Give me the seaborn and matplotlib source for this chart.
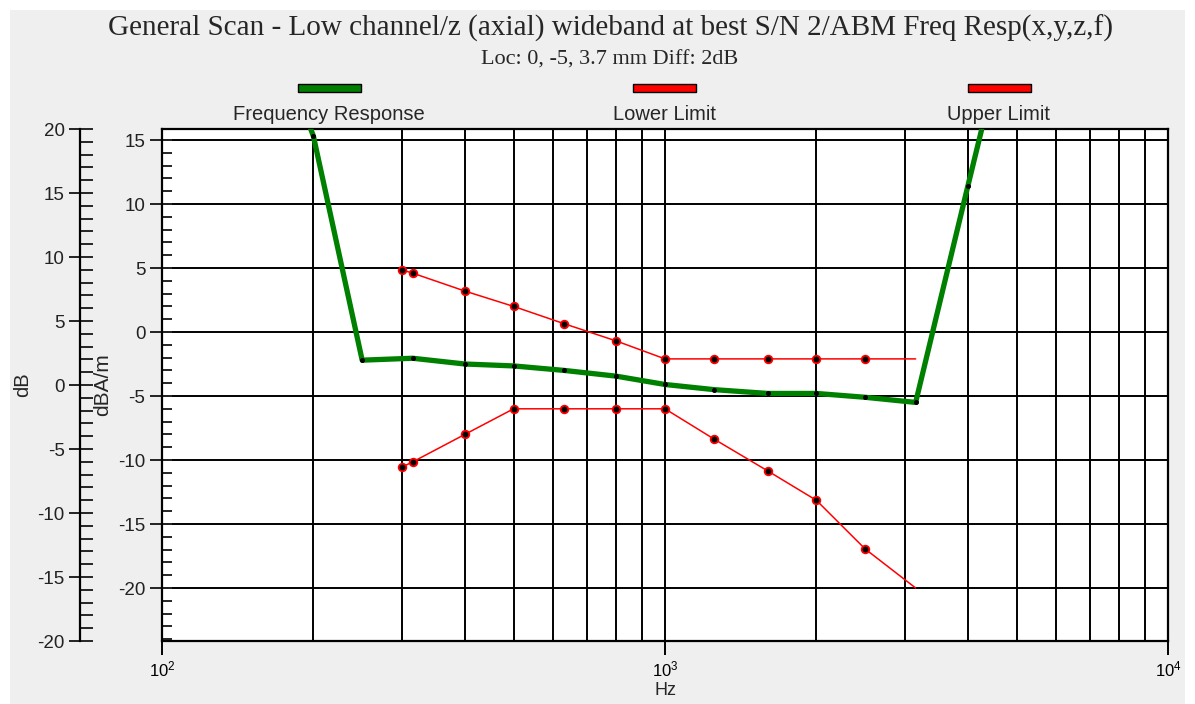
import numpy as np
import pandas as pd
import matplotlib
matplotlib.use('Agg')
import matplotlib.pyplot as plt
import matplotlib.ticker as mticker
from matplotlib.patches import Rectangle
import seaborn as sns

# Data
freq_resp_hz = [160, 200, 250, 315, 400, 500, 630, 800, 1000, 1250, 1600, 2000, 2500, 3150, 4000, 5000]
freq_resp_db = [25.5, 15.3, -2.2, -2.05, -2.5, -2.65, -3.0, -3.45, -4.1, -4.5, -4.8, -4.8, -5.1, -5.5, 11.4, 27.0]

limit_hz = [300, 315, 400, 500, 630, 800, 1000, 1250, 1600, 2000, 2500, 3150]
upper_limit = [4.85, 4.6, 3.2, 2.0, 0.65, -0.7, -2.1, -2.1, -2.1, -2.1, -2.1, -2.1]
lower_limit = [-10.55, -10.15, -8.0, -6.0, -6.0, -6.0, -6.0, -8.35, -10.85, -13.15, -16.95, -20.0]

legend_labels = ['Frequency Response', 'Lower Limit', 'Upper Limit']
legend_colors = ['#008000', '#ff0000', '#ff0000']

title = 'General Scan - Low channel/z (axial) wideband at best S/N 2/ABM Freq Resp(x,y,z,f)'
subtitle = 'Loc: 0, -5, 3.7 mm Diff: 2dB'

sns.set_style('white')
plt.rcParams['font.family'] = ['Liberation Sans', 'DejaVu Sans']
plt.rcParams['axes.unicode_minus'] = False

W, H = 1195, 704
fig = plt.figure(figsize=(W / 100, H / 100), dpi=100, facecolor='white')
fig.patches.append(Rectangle((10 / W, 0), (1185 - 10) / W, (H - 10) / H,
                             transform=fig.transFigure, facecolor='#efefef',
                             edgecolor='none', zorder=-10))

# main axes (dBA/m)
ax = fig.add_axes([162 / W, (H - 641) / H, (1168 - 162) / W, 512 / H])
ax.set_facecolor('white')

fr = pd.DataFrame({'Hz': freq_resp_hz, 'dB': freq_resp_db})
lim = pd.DataFrame({'Hz': limit_hz, 'upper': upper_limit, 'lower': lower_limit})

sns.lineplot(data=lim, x='Hz', y='upper', ax=ax, color='#ff0000', lw=1.1,
             marker='o', markersize=5.5, markerfacecolor='black',
             markeredgecolor='#ff0000', markeredgewidth=1.3,
             markevery=list(range(len(limit_hz) - 1)), zorder=4)
sns.lineplot(data=lim, x='Hz', y='lower', ax=ax, color='#ff0000', lw=1.1,
             marker='o', markersize=5.5, markerfacecolor='black',
             markeredgecolor='#ff0000', markeredgewidth=1.3,
             markevery=list(range(len(limit_hz) - 1)), zorder=4)
sns.lineplot(data=fr, x='Hz', y='dB', ax=ax, color='#008000', lw=3.8,
             marker='o', markersize=2.8, markerfacecolor='black',
             markeredgecolor='black', zorder=5)

ax.set_xscale('log')
ax.set_xlim(100, 10000)
ax.set_ylim(-24.14, 15.86)

ax.xaxis.set_major_locator(mticker.LogLocator(base=10))
ax.xaxis.set_minor_locator(mticker.LogLocator(base=10, subs=np.arange(2, 10)))
ax.xaxis.set_minor_formatter(mticker.NullFormatter())
ax.yaxis.set_major_locator(mticker.MultipleLocator(5))
ax.yaxis.set_minor_locator(mticker.MultipleLocator(1))
ax.yaxis.remove_overlapping_locs = False

ax.grid(True, which='major', axis='y', color='black', lw=1.4)
ax.grid(True, which='both', axis='x', color='black', lw=1.4)
ax.set_axisbelow(True)

ax.tick_params(axis='x', which='major', direction='out', length=10, width=1.4,
               pad=3, labelsize=12, colors='black', bottom=True)
ax.tick_params(axis='x', which='minor', length=0)
ax.tick_params(axis='y', which='major', direction='out', length=9, width=1.4,
               pad=3, labelsize=13.5, colors='#222222', left=True)
ax.tick_params(axis='y', which='minor', direction='in', length=7, width=1.4, left=True)

for s in ax.spines.values():
    s.set_color('black')
    s.set_linewidth(1.6)

ax.set_xlabel('Hz', fontsize=13, labelpad=2)
ax.set_ylabel('dBA/m', fontsize=15)
ax.yaxis.set_label_coords(-0.05, 0.5)

# outer axis (dB), 82 px to the left of the plot
ax2 = ax.twinx()
ax2.set_ylim(-20, 20)
ax2.yaxis.tick_left()
ax2.yaxis.set_label_position('left')
ax2.spines['left'].set_position(('outward', 82 * 0.72))
ax2.spines['left'].set_linewidth(1.6)
ax2.spines['left'].set_color('black')
for side in ['right', 'top', 'bottom']:
    ax2.spines[side].set_visible(False)
ax2.yaxis.set_major_locator(mticker.MultipleLocator(5))
ax2.yaxis.set_minor_locator(mticker.MultipleLocator(1))
ax2.yaxis.remove_overlapping_locs = False
ax2.tick_params(axis='y', which='major', direction='out', length=8, width=1.4,
                pad=3, labelsize=13.5, colors='#222222')
ax2.tick_params(axis='y', which='minor', direction='in', length=9, width=1.4)
ax2.set_ylabel('dB', fontsize=14.5)
ax2.yaxis.set_label_coords(-0.129, 0.5)
ax2.grid(False)

# titles
fig.text(610 / W, 1 - 28 / H, title, ha='center', va='center',
         fontsize=21, family='Liberation Serif')
fig.text(610 / W, 1 - 60 / H, subtitle, ha='center', va='center',
         fontsize=16, family='Liberation Serif')

# legend drawn above the plot
bar_x = [298, 633, 968]
for x0, lab, col in zip(bar_x, legend_labels, legend_colors):
    fig.patches.append(Rectangle((x0 / W, 1 - 92 / H), 63 / W, 8 / H,
                                 transform=fig.transFigure, facecolor=col,
                                 edgecolor='black', lw=1.0))
    fig.text((x0 + 31) / W, 1 - 114 / H, lab, ha='center', va='center', fontsize=14.5)

fig.savefig('out.png', dpi=100, facecolor=fig.get_facecolor())
